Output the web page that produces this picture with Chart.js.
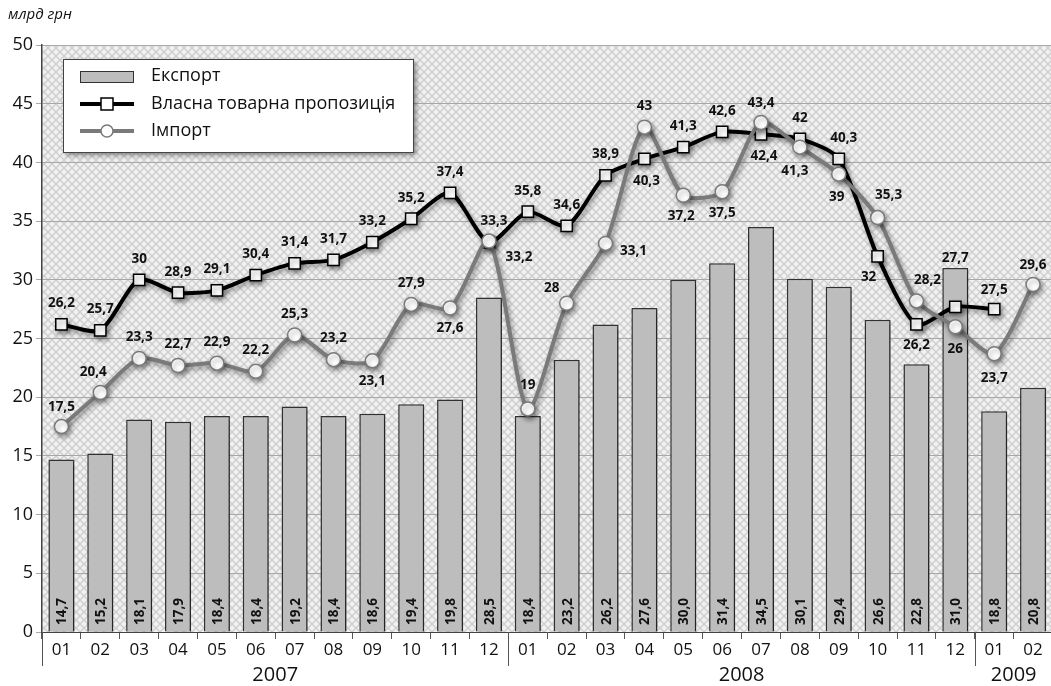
<!DOCTYPE html>
<html>
<head>
<meta charset="utf-8">
<script src="https://cdn.jsdelivr.net/npm/chart.js@4.4.1/dist/chart.umd.min.js"></script>
<style>
  html, body { margin: 0; padding: 0; background: #fff; overflow: hidden; }
  #wrap { width: 1062px; height: 686px; position: relative; }
</style>
</head>
<body>
<div id="wrap"><canvas id="chart"></canvas></div>
<script>
// Data
const months = ['01','02','03','04','05','06','07','08','09','10','11','12',
                '01','02','03','04','05','06','07','08','09','10','11','12',
                '01','02'];
const years = ['2007', '2008', '2009'];
const yearMonths = [12, 12, 2];

const exportValues = [14.7, 15.2, 18.1, 17.9, 18.4, 18.4, 19.2, 18.4, 18.6, 19.4, 19.8, 28.5,
                      18.4, 23.2, 26.2, 27.6, 30.0, 31.4, 34.5, 30.1, 29.4, 26.6, 22.8, 31.0,
                      18.8, 20.8];
const supplyValues = [26.2, 25.7, 30, 28.9, 29.1, 30.4, 31.4, 31.7, 33.2, 35.2, 37.4, 33.2,
                      35.8, 34.6, 38.9, 40.3, 41.3, 42.6, 42.4, 42, 40.3, 32, 26.2, 27.7,
                      27.5, null];
const importValues = [17.5, 20.4, 23.3, 22.7, 22.9, 22.2, 25.3, 23.2, 23.1, 27.9, 27.6, 33.3,
                      19, 28, 33.1, 43, 37.2, 37.5, 43.4, 41.3, 39, 35.3, 28.2, 26,
                      23.7, 29.6];
const yTicks = [0, 5, 10, 15, 20, 25, 30, 35, 40, 45, 50];

// label placement (dx, dy) per point, style only
const supplyLabelPos = [[0,-21],[0,-21],[0,-21],[0,-21],[0,-21],[0,-21],[0,-21],[0,-21],[0,-21],[0,-21],[0,-21],[30,15],
                        [0,-21],[0,-21],[0,-21],[2,22],[0,-21],[0,-21],[3,22],[0,-21],[5,-21],[-9,21],[0,21],[0,-49],
                        [0,-19],[0,0]];
const importLabelPos = [[0,-19],[-7,-20],[0,-21],[0,-21],[0,-21],[0,-21],[0,-21],[0,-21],[0,20],[0,-21],[0,20],[5,-20],
                        [0,-24],[-15,-15],[28,8],[0,-21],[-2,21],[0,21],[0,-19],[-5,24],[-2,23],[11,-22],[11,-21],[0,22],
                        [0,24],[0,-19]];

const FONT = '"Open Sans", "Noto Sans", sans-serif';

function fmt(v) {
  return String(v).replace('.', ',');
}

// cross hatch background for the plot area
function makeHatch() {
  const c = document.createElement('canvas');
  c.width = 8; c.height = 8;
  const g = c.getContext('2d');
  g.fillStyle = '#f1f1f1';
  g.fillRect(0, 0, 8, 8);
  g.strokeStyle = '#cdcdcd';
  g.lineWidth = 1.3;
  g.beginPath();
  g.moveTo(0, 0); g.lineTo(8, 8);
  g.moveTo(8, 0); g.lineTo(0, 8);
  g.stroke();
  return g.createPattern(c, 'repeat');
}

const hatchPlugin = {
  id: 'hatch',
  beforeDraw(chart) {
    const { ctx, chartArea: a } = chart;
    ctx.save();
    ctx.fillStyle = makeHatch();
    ctx.fillRect(a.left, a.top, a.right - a.left, a.bottom - a.top);
    ctx.restore();
  }
};

const shadowPlugin = {
  id: 'shadow',
  beforeDatasetDraw(chart) {
    const ctx = chart.ctx;
    ctx.save();
    ctx.shadowColor = 'rgba(0,0,0,0.4)';
    ctx.shadowBlur = 5;
    ctx.shadowOffsetX = 2;
    ctx.shadowOffsetY = 3;
  },
  afterDatasetDraw(chart) {
    chart.ctx.restore();
  }
};

const labelPlugin = {
  id: 'labels',
  afterDatasetsDraw(chart) {
    const ctx = chart.ctx;
    ctx.save();
    ctx.fillStyle = '#111';

    // bar values, rotated at the bottom of each bar
    ctx.font = 'bold 13.5px ' + FONT;
    const bars = chart.getDatasetMeta(0).data;
    bars.forEach((bar, i) => {
      ctx.save();
      ctx.translate(bar.x + 5, chart.chartArea.bottom - 7);
      ctx.rotate(-Math.PI / 2);
      ctx.textAlign = 'left';
      ctx.textBaseline = 'alphabetic';
      ctx.fillText(exportValues[i].toFixed(1).replace('.', ','), 0, 0);
      ctx.restore();
    });

    ctx.font = 'bold 13.5px ' + FONT;
    ctx.textAlign = 'center';
    ctx.textBaseline = 'middle';
    const sets = [[1, supplyValues, supplyLabelPos], [2, importValues, importLabelPos]];
    sets.forEach(([idx, values, pos]) => {
      chart.getDatasetMeta(idx).data.forEach((pt, i) => {
        if (values[i] === null) return;
        ctx.fillText(fmt(values[i]), pt.x + pos[i][0], pt.y + pos[i][1]);
      });
    });
    ctx.restore();
  }
};

const axisPlugin = {
  id: 'yearAxis',
  afterDraw(chart) {
    const { ctx, chartArea: a } = chart;
    const x = chart.scales.x;
    const step = x.getPixelForValue(1) - x.getPixelForValue(0);
    ctx.save();
    ctx.strokeStyle = '#555';
    ctx.lineWidth = 1;
    ctx.font = '20px ' + FONT;
    ctx.fillStyle = '#111';
    ctx.textAlign = 'center';
    ctx.textBaseline = 'middle';
    let start = 0;
    years.forEach((y, k) => {
      const x0 = x.getPixelForValue(start) - step / 2;
      const x1 = x.getPixelForValue(start + yearMonths[k] - 1) + step / 2;
      ctx.beginPath();
      ctx.moveTo(Math.round(x0) + 0.5, a.bottom);
      ctx.lineTo(Math.round(x0) + 0.5, a.bottom + 34);
      ctx.stroke();
      ctx.fillText(y, (x0 + x1) / 2, a.bottom + 43);
      start += yearMonths[k];
    });
    ctx.restore();

    // legend box
    const lx = 63, ly = 59, lw = 350, lh = 93;
    ctx.save();
    ctx.shadowColor = 'rgba(0,0,0,0.45)';
    ctx.shadowBlur = 5;
    ctx.shadowOffsetX = 3;
    ctx.shadowOffsetY = 3;
    ctx.fillStyle = '#fff';
    ctx.fillRect(lx, ly, lw, lh);
    ctx.restore();
    ctx.save();
    ctx.strokeStyle = '#444';
    ctx.lineWidth = 1;
    ctx.strokeRect(lx + 0.5, ly + 0.5, lw, lh);

    ctx.fillStyle = '#bdbdbd';
    ctx.fillRect(80, 71, 53, 11);
    ctx.strokeStyle = '#333';
    ctx.strokeRect(80.5, 71.5, 53, 11);

    ctx.lineWidth = 4;
    ctx.strokeStyle = '#000';
    ctx.beginPath(); ctx.moveTo(80, 104); ctx.lineTo(134, 104); ctx.stroke();
    ctx.lineWidth = 1.5;
    ctx.fillStyle = '#fff';
    ctx.fillRect(101, 98, 12, 12);
    ctx.strokeRect(101, 98, 12, 12);

    ctx.lineWidth = 4;
    ctx.strokeStyle = '#7a7a7a';
    ctx.beginPath(); ctx.moveTo(80, 131); ctx.lineTo(134, 131); ctx.stroke();
    ctx.lineWidth = 1.5;
    ctx.beginPath(); ctx.arc(107, 131, 6, 0, Math.PI * 2); ctx.fill(); ctx.stroke();

    ctx.fillStyle = '#111';
    ctx.font = '18px ' + FONT;
    ctx.textAlign = 'left';
    ctx.textBaseline = 'middle';
    ctx.fillText('Експорт', 151, 76);
    ctx.fillText('Власна товарна пропозиція', 151, 104);
    ctx.fillText('Імпорт', 151, 131);

    ctx.font = 'italic 15px ' + FONT;
    ctx.fillText('млрд грн', 8, 15);
    ctx.restore();
  }
};

new Chart(document.getElementById('chart'), {
  data: {
    labels: months,
    datasets: [
      {
        type: 'bar',
        label: 'Експорт',
        data: exportValues,
        backgroundColor: '#bdbdbd',
        borderColor: '#333',
        borderWidth: 1.5,
        barPercentage: 0.67,
        categoryPercentage: 1,
        order: 3
      },
      {
        type: 'line',
        label: 'Власна товарна пропозиція',
        data: supplyValues,
        borderColor: '#000',
        borderWidth: 4,
        tension: 0.25,
        pointStyle: 'rect',
        pointRadius: 8,
        pointBackgroundColor: '#fff',
        pointBorderColor: '#000',
        pointBorderWidth: 1.5,
        spanGaps: false,
        order: 2
      },
      {
        type: 'line',
        label: 'Імпорт',
        data: importValues,
        borderColor: '#7a7a7a',
        borderWidth: 4,
        tension: 0.25,
        pointStyle: 'circle',
        pointRadius: 7,
        pointBackgroundColor: '#fff',
        pointBorderColor: '#7a7a7a',
        pointBorderWidth: 1.5,
        order: 1
      }
    ]
  },
  options: {
    responsive: true,
    maintainAspectRatio: false,
    animation: false,
    layout: { padding: { top: 45, right: 3, left: 0, bottom: 0 } },
    plugins: { legend: { display: false }, tooltip: { enabled: false } },
    scales: {
      x: {
        offset: true,
        grid: { drawOnChartArea: false, offset: true, tickLength: 7, color: '#555' },
        border: { color: '#444', width: 1 },
        ticks: { color: '#111', font: { family: FONT, size: 17 }, padding: 1, maxRotation: 0, autoSkip: false },
        afterFit(s) { s.height = 54; }
      },
      y: {
        min: 0,
        max: 50,
        afterBuildTicks(s) { s.ticks = yTicks.map(v => ({ value: v })); },
        grid: { color: '#a8a8a8', lineWidth: 1, tickLength: 6 },
        border: { color: '#444', width: 1.5 },
        ticks: { color: '#111', font: { family: FONT, size: 18 }, padding: 3 },
        afterFit(s) { s.width = 42; }
      }
    }
  },
  plugins: [hatchPlugin, shadowPlugin, labelPlugin, axisPlugin]
});
</script>
</body>
</html>
